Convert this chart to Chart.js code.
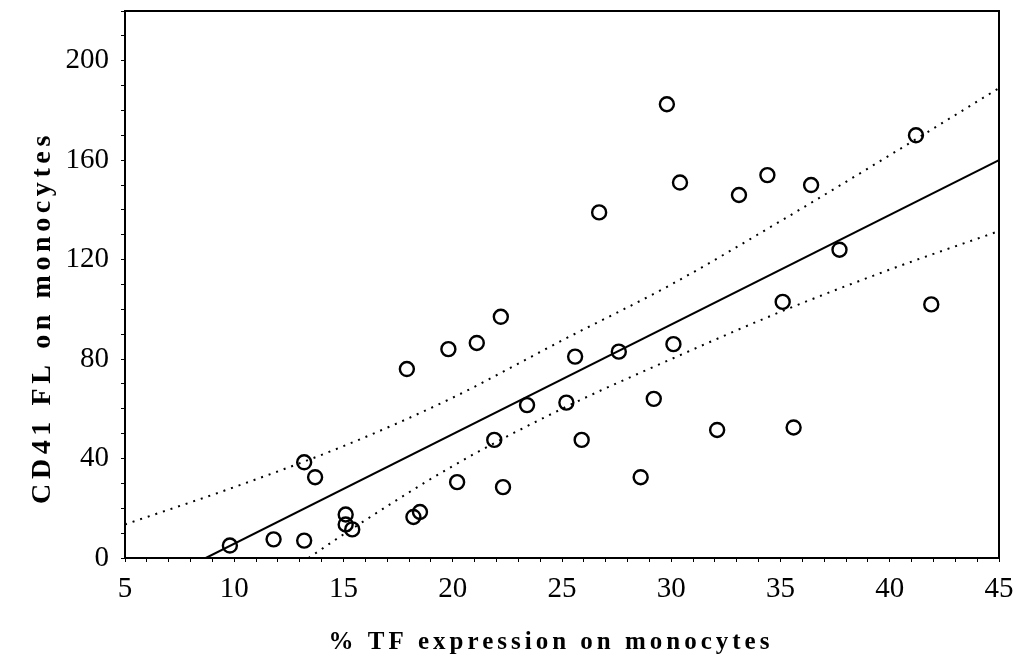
<!DOCTYPE html>
<html lang="en">
<head>
  <meta charset="UTF-8" />
  <title>CD41 FL vs % TF expression</title>
  <script src="https://cdn.jsdelivr.net/npm/chart.js"></script>
  <style>
    html, body {
      margin: 0;
      padding: 0;
      background: #fff;
    }
    #wrap {
      width: 1019px;
      height: 658px;
    }
  </style>
</head>
<body>
  <div id="wrap"><canvas id="tfChart"></canvas></div>

  <script>
    // measured points (% TF expression, CD41 FL)
    const tfPct = [9.8, 11.8, 13.2, 13.2, 13.7, 15.1, 15.1, 15.4, 17.9, 18.2, 18.5, 19.8, 20.2,
                   21.1, 21.9, 22.2, 22.3, 23.4, 25.2, 25.6, 25.9, 26.7, 27.6, 28.6, 29.2, 29.8,
                   30.1, 30.4, 32.1, 33.1, 34.4, 35.1, 35.6, 36.4, 37.7, 41.2, 41.9];
    const cd41 = [5, 7.5, 7, 38.5, 32.5, 17.5, 13.5, 11.5, 76, 16.5, 18.5, 84, 30.5,
                  86.5, 47.5, 97, 28.5, 61.5, 62.5, 81, 47.5, 139, 83, 32.5, 64, 182.5,
                  86, 151, 51.5, 146, 154, 103, 52.5, 150, 124, 170, 102];

    // regression line
    const fitX = [8.7, 45];
    const fitY = [0, 160];

    // confidence band
    const upperX = [5, 10, 15, 20, 25, 30, 35, 40, 45];
    const upperY = [13.5, 28.5, 45, 64.5, 87.5, 110, 135.5, 162, 189];
    const lowerX = [13.4, 15, 20, 25, 30, 35, 40, 45];
    const lowerY = [0, 9.5, 37, 60, 80, 99, 116, 131.5];

    const xLabels = [5, 10, 15, 20, 25, 30, 35, 40, 45];
    const yLabels = [0, 40, 80, 120, 160, 200];

    const xTitle = '% TF expression on monocytes';
    const yTitle = 'CD41 FL on monocytes';

    const toXY = (xs, ys) => xs.map((x, i) => ({ x: x, y: ys[i] }));

    const serif = '"Liberation Serif", "DejaVu Serif", serif';

    // box round the plot area and the two spaced-out axis titles
    const frame = {
      id: 'frame',
      afterDraw(chart) {
        const a = chart.chartArea;
        const ctx = chart.ctx;
        ctx.save();
        ctx.strokeStyle = '#000';
        ctx.lineWidth = 2;
        ctx.strokeRect(a.left, a.top, a.right - a.left, a.bottom - a.top);

        ctx.fillStyle = '#000';
        ctx.textAlign = 'center';
        ctx.textBaseline = 'middle';
        ctx.font = 'bold 25px ' + serif;
        ctx.letterSpacing = '4px';
        ctx.fillText(xTitle, (a.left + a.right) / 2 - 11, chart.height - 15);

        ctx.translate(43, (a.top + a.bottom) / 2 + 33);
        ctx.rotate(-Math.PI / 2);
        ctx.font = 'bold 28px ' + serif;
        ctx.letterSpacing = '4.6px';
        ctx.fillText(yTitle, 0, 0);
        ctx.restore();
      }
    };

    new Chart(document.getElementById('tfChart'), {
      type: 'scatter',
      data: {
        datasets: [
          {
            data: toXY(tfPct, cd41),
            pointRadius: 7,
            pointBorderWidth: 2.4,
            pointBorderColor: '#000',
            pointBackgroundColor: 'rgba(255,255,255,0)',
            order: 0
          },
          {
            data: toXY(fitX, fitY),
            showLine: true,
            borderColor: '#000',
            borderWidth: 2,
            pointRadius: 0,
            order: 1
          },
          {
            data: toXY(upperX, upperY),
            showLine: true,
            borderColor: '#000',
            borderWidth: 2,
            borderDash: [2, 6],
            cubicInterpolationMode: 'monotone',
            pointRadius: 0,
            order: 2
          },
          {
            data: toXY(lowerX, lowerY),
            showLine: true,
            borderColor: '#000',
            borderWidth: 2,
            borderDash: [2, 6],
            cubicInterpolationMode: 'monotone',
            pointRadius: 0,
            order: 2
          }
        ]
      },
      options: {
        responsive: true,
        maintainAspectRatio: false,
        animation: false,
        layout: { padding: { left: 0, right: 20, top: 11, bottom: 0 } },
        plugins: {
          legend: { display: false },
          tooltip: { enabled: false }
        },
        scales: {
          x: {
            type: 'linear',
            min: 5,
            max: 45,
            afterFit: (s) => {
              s.height = 100;
              s.paddingLeft = 0;
              s.paddingRight = 0;
            },
            ticks: {
              stepSize: 1,
              autoSkip: false,
              maxRotation: 0,
              padding: 10,
              color: '#000',
              font: { family: serif, size: 29 },
              callback: (v) => xLabels.includes(v) ? v : ''
            },
            grid: { drawOnChartArea: false, tickLength: 4, color: '#000' },
            border: { color: '#000', width: 2 }
          },
          y: {
            min: 0,
            max: 220,
            afterFit: (s) => {
              s.width = 125;
              s.paddingTop = 0;
              s.paddingBottom = 0;
            },
            ticks: {
              stepSize: 10,
              autoSkip: false,
              padding: 12,
              color: '#000',
              font: { family: serif, size: 29 },
              callback: (v) => yLabels.includes(v) ? v : ''
            },
            grid: { drawOnChartArea: false, tickLength: 4, color: '#000' },
            border: { color: '#000', width: 2 }
          }
        }
      },
      plugins: [frame]
    });
  </script>
</body>
</html>
